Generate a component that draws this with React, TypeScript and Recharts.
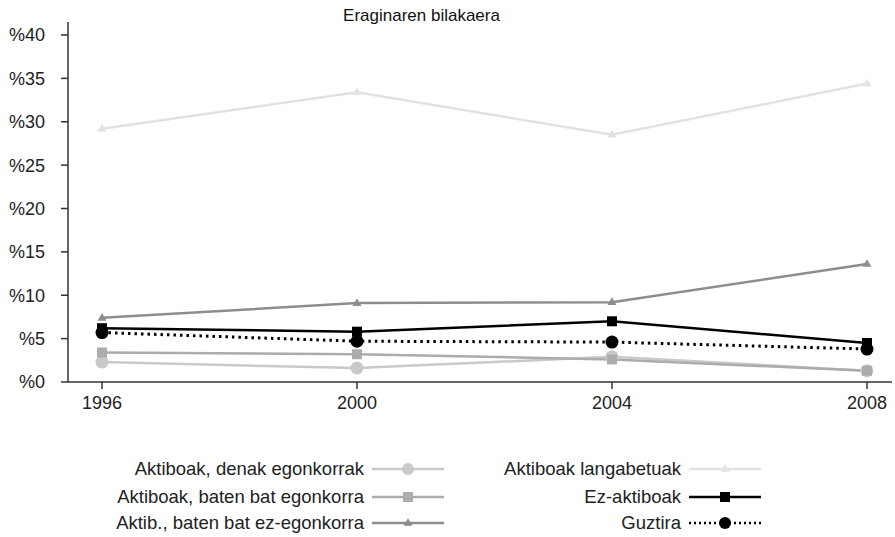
import React from "react";
import { LineChart, Line, XAxis, YAxis } from "recharts";

const years = ["1996", "2000", "2004", "2008"];
const yTicks = [0, 5, 10, 15, 20, 25, 30, 35, 40];

const denak = [2.3, 1.6, 2.9, 1.3];
const batEgonkorra = [3.4, 3.2, 2.6, 1.3];
const ezEgonkorra = [7.4, 9.1, 9.2, 13.6];
const langabetuak = [29.2, 33.4, 28.5, 34.4];
const ezAktiboak = [6.2, 5.8, 7.0, 4.5];
const guztira = [5.7, 4.7, 4.6, 3.8];

type Shape = "circle" | "square" | "triangle";
type SeriesDef = { key: string; name: string; color: string; shape: Shape; size: number; dashed?: boolean };

const seriesDefs: SeriesDef[] = [
  { key: "denak", name: "Aktiboak, denak egonkorrak", color: "#c9c9c9", shape: "circle", size: 6.5 },
  { key: "bat", name: "Aktiboak, baten bat egonkorra", color: "#acacac", shape: "square", size: 10 },
  { key: "ez", name: "Aktib., baten bat ez-egonkorra", color: "#8d8d8d", shape: "triangle", size: 9 },
  { key: "lang", name: "Aktiboak langabetuak", color: "#e2e2e2", shape: "triangle", size: 9 },
  { key: "ezakt", name: "Ez-aktiboak", color: "#000000", shape: "square", size: 10 },
  { key: "guztira", name: "Guztira", color: "#000000", shape: "circle", size: 6.5, dashed: true },
];

const data = years.map((year, i) => ({
  year,
  denak: denak[i],
  bat: batEgonkorra[i],
  ez: ezEgonkorra[i],
  lang: langabetuak[i],
  ezakt: ezAktiboak[i],
  guztira: guztira[i],
}));

const FONT = "'Helvetica Neue', 'Liberation Sans', Arial, sans-serif";
const AXIS = "#333";

function marker(shape: Shape, color: string, cx: number, cy: number, size: number, key?: string) {
  if (shape === "circle") return <circle key={key} cx={cx} cy={cy} r={size} fill={color} />;
  if (shape === "square")
    return <rect key={key} x={cx - size / 2} y={cy - size / 2} width={size} height={size} fill={color} />;
  const h = size * 0.85;
  return (
    <polygon
      key={key}
      points={`${cx},${cy - h / 2 - 1} ${cx + size / 2},${cy + h / 2 - 1} ${cx - size / 2},${cy + h / 2 - 1}`}
      fill={color}
    />
  );
}

// legend entry: text right-aligned at x, then a 72px sample line
function LegendItem({ s, x, y, w }: { s: SeriesDef; x: number; y: number; w: number }) {
  return (
    <div style={{ position: "absolute", left: x - w, top: y - 12, width: w + 80, height: 24, display: "flex", alignItems: "center" }}>
      <span style={{ width: w, textAlign: "right", fontSize: 18.5, color: "#222", fontFamily: FONT, whiteSpace: "nowrap" }}>{s.name}</span>
      <svg width={80} height={24}>
        <line
          x1={8}
          x2={80}
          y1={12}
          y2={12}
          stroke={s.color}
          strokeWidth={s.dashed ? 2.5 : 2.5}
          strokeDasharray={s.dashed ? "2 3" : undefined}
        />
        {marker(s.shape, s.color, 44, 12, s.shape === "circle" ? 6 : s.shape === "square" ? 10 : 9)}
      </svg>
    </div>
  );
}

export default function App() {
  const rows = [469, 497, 523];
  return (
    <div style={{ position: "absolute", left: 0, top: 0, width: 895, height: 537, background: "#fff" }}>
      <div
        style={{
          position: "absolute",
          left: 0,
          width: 843,
          top: 6,
          textAlign: "center",
          fontSize: 17,
          fontFamily: FONT,
          color: "#111",
        }}
      >
        Eraginaren bilakaera
      </div>
      <LineChart width={895} height={537} data={data} margin={{ top: 22, right: 3, left: 0, bottom: 125 }}>
        <XAxis
          dataKey="year"
          height={30}
          padding={{ left: 34, right: 25 }}
          axisLine={{ stroke: AXIS, strokeWidth: 1.5 }}
          tickLine={{ stroke: AXIS, strokeWidth: 1.5 }}
          tickSize={7}
          tickMargin={7}
          tick={{ fill: "#222", fontSize: 18, fontFamily: FONT }}
        />
        <YAxis
          width={68}
          domain={[0, 40]}
          ticks={yTicks}
          padding={{ top: 13, bottom: 0 }}
          tickFormatter={(v) => `%${v}`}
          axisLine={{ stroke: AXIS, strokeWidth: 1.5 }}
          tickLine={{ stroke: AXIS, strokeWidth: 1.5 }}
          tickSize={7}
          tickMargin={16}
          tick={{ fill: "#222", fontSize: 18, fontFamily: FONT }}
        />
        {seriesDefs.map((s) => (
          <Line
            key={s.key}
            dataKey={s.key}
            name={s.name}
            type="linear"
            stroke={s.color}
            strokeWidth={s.dashed ? 3 : 2.5}
            strokeDasharray={s.dashed ? "2.5 4" : undefined}
            isAnimationActive={false}
            activeDot={false}
            dot={(p: any) => marker(s.shape, s.color, p.cx, p.cy, s.size, `${s.key}-${p.index}`)}
          />
        ))}
      </LineChart>
      {seriesDefs.slice(0, 3).map((s, i) => (
        <LegendItem key={s.key} s={s} x={364} y={rows[i]} w={300} />
      ))}
      {seriesDefs.slice(3).map((s, i) => (
        <LegendItem key={s.key} s={s} x={681} y={rows[i]} w={260} />
      ))}
    </div>
  );
}
